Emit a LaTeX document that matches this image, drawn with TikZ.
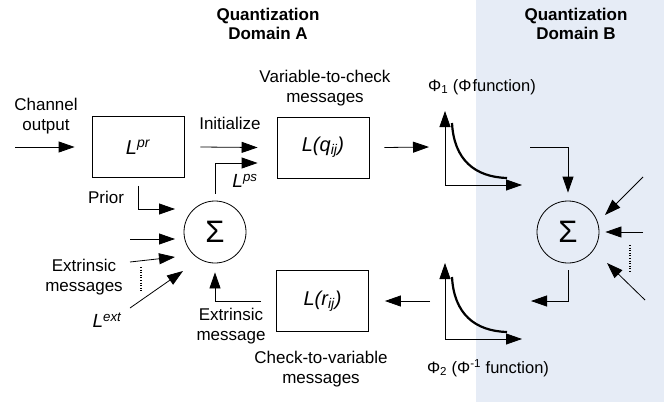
\documentclass[tikz,border=0pt]{standalone}
\usepackage{fontspec}
\setmainfont{Liberation Sans}
\usetikzlibrary{arrows.meta,calc}
\definecolor{domB}{RGB}{230,236,246}
\tikzset{
  lbl/.style={inner sep=0pt, align=center, font=\fontsize{17}{19.5}\selectfont},
  ttl/.style={inner sep=0pt, align=center, font=\fontsize{17}{18.5}\selectfont\bfseries},
  blk/.style={draw, line width=0.8pt, minimum width=92pt, minimum height=61pt, inner sep=0pt, font=\fontsize{20}{22}\selectfont},
  sumnode/.style={draw, circle, line width=0.8pt, minimum size=62pt, inner sep=0pt, font=\fontsize{31}{31}\selectfont},
  arr/.style={line width=0.8pt, -{Triangle[length=16pt,width=11pt]}},
  ln/.style={line width=0.8pt},
  dots/.style={line width=1.2pt, dash pattern=on 1pt off 1.6pt},
  curve/.style={line width=2.2pt}
}
\begin{document}
\begin{tikzpicture}[x=1pt,y=-1pt]
\useasboundingbox (0,0) rectangle (664,402);
\fill[domB] (476,0) rectangle (664,402);

% titles
\node[ttl] (tA) at (268,24) {Quantization\\Domain A};
\node[ttl] (tB) at (576,24) {Quantization\\Domain B};

% blocks
\node[blk] (lpr) at (138,147) {\textit{L\textsuperscript{pr}}};
\node[blk] (lq) at (323,147.5) {\textit{L(q\textsubscript{ij})}};
\node[blk] (lr) at (322.5,301) {\textit{L(r\textsubscript{ij})}};
\node[sumnode] (sa) at (215,232) {Σ};
\node[sumnode] (sb) at (568,232) {Σ};

% labels
\node[lbl] (chan) at (46,116) {Channel\\output};
\node[lbl] (init) at (230,123) {Initialize};
\node[lbl] (v2c) at (325,88) {Variable-to-check\\messages};
\node[lbl, font=\fontsize{19}{21}\selectfont] (lps) at (245,181) {\textit{L\textsuperscript{ps}}};
\node[lbl] (prior) at (106,197) {Prior};
\node[lbl] (extms) at (84,277) {Extrinsic\\messages};
\node[lbl, font=\fontsize{19}{21}\selectfont] (lext) at (107,320) {\textit{L\textsuperscript{ext}}};
\node[lbl] (extm) at (231,326) {Extrinsic\\message};
\node[lbl] (c2v) at (321,369) {Check-to-variable\\messages};
\node[lbl, font=\fontsize{16.5}{18}\selectfont] (phi1) at (482,87) {Φ\textsubscript{1} (Φ\hspace{1pt}function)};
\node[lbl, font=\fontsize{16.5}{18}\selectfont] (phi2) at (488,368) {Φ\textsubscript{2} (Φ\textsuperscript{-1} function)};

% coordinates
\coordinate (chin) at (15,147);
\coordinate (g1in) at (429,147);
\coordinate (g1o) at (445,185);
\coordinate (g2o) at (445,339);
\coordinate (g2out) at (430,301);
\coordinate (bin) at (530,147);
\coordinate (bout) at (531,301);
\coordinate (pri) at (175,209);
\coordinate (a1s) at (130,239);
\coordinate (a1e) at (175,239);
\coordinate (a2s) at (130,262);
\coordinate (a2e) at (175,257);
\coordinate (a3s) at (130,308);
\coordinate (a3e) at (183,271);
\coordinate (b1s) at (643,177);
\coordinate (b1e) at (605,215);
\coordinate (b2s) at (643,232);
\coordinate (b3s) at (645,300);
\coordinate (b3e) at (607,263);

% left side connectors
\draw[arr] (chin) -- ([xshift=-17pt]lpr.west);
\draw[arr] ([xshift=16pt]lpr.east) -- ([xshift=-19pt]lq.west);
\draw[arr] ([yshift=7pt]sa.north) |- ([xshift=-19pt,yshift=-15.5pt]lq.west);
\draw[arr] ([yshift=-8pt]lpr.south) |- (pri);
\draw[arr] (a1s) -- (a1e);
\draw[arr] (a2s) -- (a2e);
\draw[arr] (a3s) -- (a3e);
\draw[dots] (141,267) -- (141,292);
\draw[arr] ([xshift=-15pt]lr.west) -| ([yshift=-9pt]sa.south);

% q to graph 1
\draw[arr] ([xshift=15pt]lq.east) -- (g1in);
% graph 1
\draw[arr] (g1o) -- ++(0,-74);
\draw[arr] (g1o) -- ++(77,0);
\draw[curve] (452,123) .. controls (454,160) and (475,177) .. (507,178);
% graph 2
\draw[arr] (g2o) -- ++(0,-76);
\draw[arr] (g2o) -- ++(77,0);
\draw[curve] (452,277) .. controls (454,314) and (475,331) .. (507,332);

% into and out of sum B
\draw[arr] (bin) -| ([yshift=8pt]sb.north);
\draw[arr] (b1s) -- (b1e);
\draw[arr] (b2s) -- ([xshift=6pt]sb.east);
\draw[arr] (b3s) -- (b3e);
\draw[dots] (630,245) -- (630,273);
\draw[arr] ([yshift=-7pt]sb.south) |- (bout);

% graph 2 to r
\draw[arr] (g2out) -- ([xshift=16pt]lr.east);
\end{tikzpicture}
\end{document}
